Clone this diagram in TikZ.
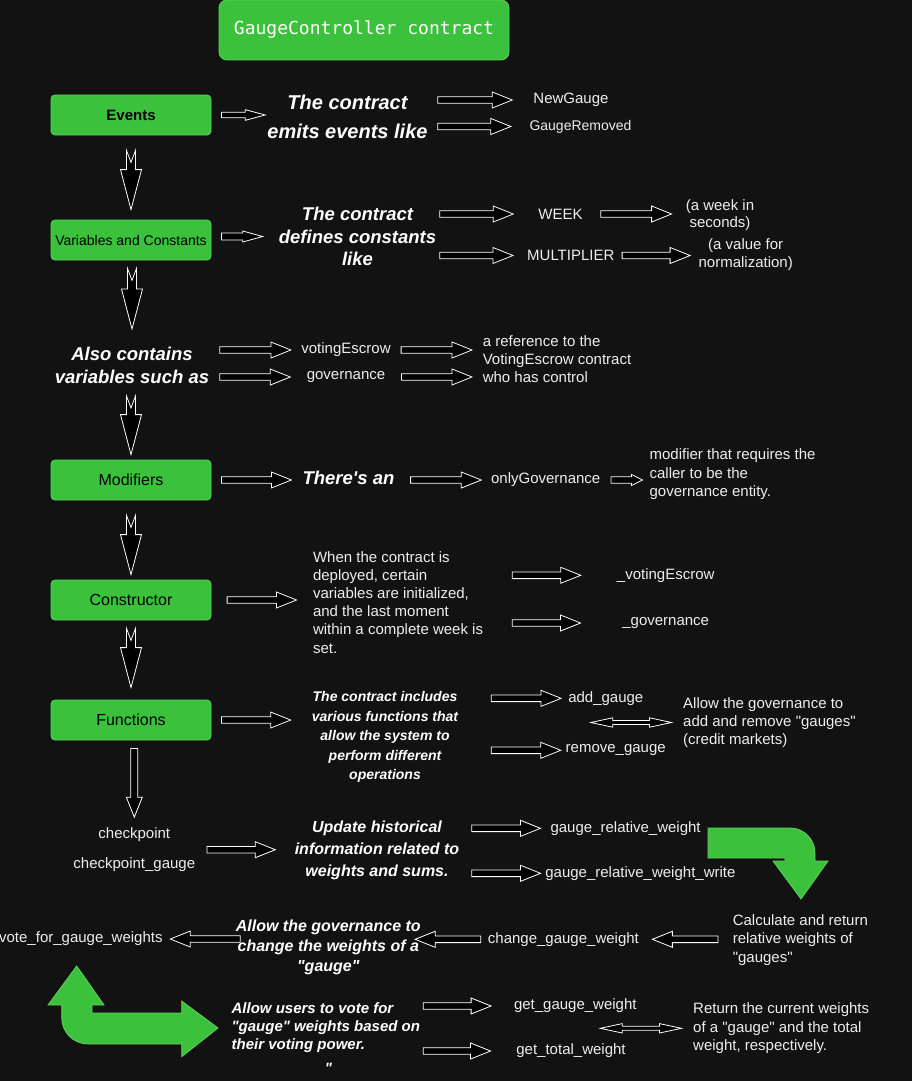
\documentclass[tikz,border=0pt]{standalone}
\usepackage{fontspec}
\setmainfont{Liberation Sans}[Ligatures=TeXOff]
\newfontfamily\codefont{DejaVu Sans Mono}
\usetikzlibrary{calc}
\definecolor{bg}{HTML}{121212}
\definecolor{gauge}{HTML}{3BC13B}
\definecolor{gaugeedge}{HTML}{5FD05F}
\definecolor{txt}{HTML}{EEEEEE}
\newcommand\fs[2]{\fontsize{#1}{#2}\selectfont}

\tikzset{
  fa shaft/.initial=3.3pt, fa head/.initial=8pt, fa len/.initial=20pt, fa notch/.initial=0pt,
  hollow/.style={draw=white, fill=black, line width=0.8pt, line join=miter},
  flow/.style={hollow, to path={let \p1=(\tikztostart), \p2=(\tikztotarget),
      \n1={sign(\x2-\x1)}, \n2={\pgfkeysvalueof{/tikz/fa shaft}},
      \n3={\pgfkeysvalueof{/tikz/fa head}}, \n4={\pgfkeysvalueof{/tikz/fa len}} in
      (\x1,{\y2+\n2}) -- ({\x2-\n1*\n4},{\y2+\n2}) -- ({\x2-\n1*\n4},{\y2+\n3}) -- (\x2,\y2)
      -- ({\x2-\n1*\n4},{\y2-\n3}) -- ({\x2-\n1*\n4},{\y2-\n2}) -- (\x1,{\y2-\n2}) -- cycle}},
  flowboth/.style={hollow, fa shaft=2pt, fa head=4.7pt, fa len=22pt,
    to path={let \p1=(\tikztostart), \p2=(\tikztotarget),
      \n1={sign(\x2-\x1)}, \n2={\pgfkeysvalueof{/tikz/fa shaft}},
      \n3={\pgfkeysvalueof{/tikz/fa head}}, \n4={\pgfkeysvalueof{/tikz/fa len}} in
      (\x1,\y2) -- ({\x1+\n1*\n4},{\y2+\n3}) -- ({\x1+\n1*\n4},{\y2+\n2}) -- ({\x2-\n1*\n4},{\y2+\n2})
      -- ({\x2-\n1*\n4},{\y2+\n3}) -- (\x2,\y2) -- ({\x2-\n1*\n4},{\y2-\n3}) -- ({\x2-\n1*\n4},{\y2-\n2})
      -- ({\x1+\n1*\n4},{\y2-\n2}) -- ({\x1+\n1*\n4},{\y2-\n3}) -- cycle}},
  drop/.style={hollow, fa shaft=4.5pt, fa head=10.5pt, fa len=40pt, fa notch=12pt,
    to path={let \p1=(\tikztostart), \p2=(\tikztotarget),
      \n2={\pgfkeysvalueof{/tikz/fa shaft}}, \n3={\pgfkeysvalueof{/tikz/fa head}},
      \n4={\pgfkeysvalueof{/tikz/fa len}}, \n5={\pgfkeysvalueof{/tikz/fa notch}} in
      ({\x2-\n2},\y1) -- (\x2,{\y1-\n5}) -- ({\x2+\n2},\y1) -- ({\x2+\n2},{\y2+\n4})
      -- ({\x2+\n3},{\y2+\n4}) -- (\x2,\y2) -- ({\x2-\n3},{\y2+\n4}) -- ({\x2-\n2},{\y2+\n4}) -- cycle}},
  box/.style={rectangle, rounded corners=4pt, fill=gauge, draw=gaugeedge, line width=0.8pt,
    minimum width=160pt, minimum height=40pt, text=black, font=\fs{16}{19}},
  lbl/.style={text=txt, inner sep=0pt, align=left, font=\fs{15}{18.2}},
  say/.style 2 args={text=white, inner sep=0pt, align=center, font=\bfseries\itshape\fs{#1}{#2}},
  greenbend/.style={fill=gauge, draw=gaugeedge, line width=0.8pt}
}

\begin{document}
\begin{tikzpicture}[x=1pt, y=-1pt]
  \fill[bg] (0,0) rectangle (912,1081);
  \useasboundingbox (0,0) rectangle (912,1081);

  \node[box, minimum width=290pt, minimum height=60pt, rounded corners=8pt, text=white,
    font=\codefont\fs{18}{22}] (title) at (364,30) {GaugeController contract};

  \node[box, font=\bfseries\fs{15}{18}] (evt) at (131,115) {Events};
  \node[box, font=\fs{14}{17}] (var) at (131,240) {Variables and Constants};
  \node[box] (mod) at (131,480) {Modifiers};
  \node[box] (cons) at (131,600) {Constructor};
  \node[box] (fun) at (131,720) {Functions};

  % events
  \node[say={20}{29}] (emits) at (347.5,116.5) {The contract\\emits events like};
  \node[lbl] (newg) at (571,100) {NewGauge};
  \node[lbl, font=\fs{14}{17}] (grem) at (580.5,126.5) {GaugeRemoved};
  \draw[flow, fa shaft=2.8pt, fa head=5.3pt] ([xshift=10pt]evt.east) to ([xshift=-2pt]emits.west |- evt);
  \draw[flow] ([xshift=10pt]emits.east |- newg) to ([xshift=-21pt]newg.west);
  \draw[flow] ([xshift=10pt]emits.east |- grem) to ([xshift=-18.5pt]grem.west);

  % constants
  \node[say={18.5}{22.5}] (defines) at (357.5,236.5) {The contract\\defines constants\\like};
  \node[lbl] (week) at (560.5,214) {WEEK};
  \node[lbl, align=center, font=\fs{15}{17.5}] (weeksec) at (720,215) {(a week in\\seconds)};
  \node[lbl] (mult) at (570.8,255.5) {MULTIPLIER};
  \node[lbl, align=center] (normval) at (745.7,255) {(a value for\\normalization)};
  \draw[flow, fa shaft=3.5pt, fa head=5.5pt] ([xshift=10pt]var.east |- defines) to ([xshift=-16pt]defines.west);
  \draw[flow] ([xshift=3.5pt]defines.east |- week) to ([xshift=-25pt]week.west);
  \draw[flow] ([xshift=18pt]week.east) to ([xshift=-14pt]weeksec.west |- week);
  \draw[flow] ([xshift=3.5pt]defines.east |- mult) to ([xshift=-14pt]mult.west);
  \draw[flow] ([xshift=7.5pt]mult.east) to ([xshift=-8.3pt]normval.west |- mult);

  % variables
  \node[say={18.5}{23}] (also) at (132,365.5) {Also contains\\variables such as};
  \node[lbl] (vesc0) at (346,350) {votingEscrow};
  \node[lbl] (gov0) at (346,377) {governance};
  \node[lbl, anchor=west] (ref) at (482.6,359) {a reference to the\\VotingEscrow contract\\who has control};
  \draw[flow] ([xshift=10.5pt]also.east |- vesc0) to ([xshift=-10.3pt]vesc0.west);
  \draw[flow] ([xshift=10.5pt]also.east |- gov0) to ([xshift=-16.3pt]gov0.west);
  \draw[flow] ([xshift=10.3pt]vesc0.east) to ([xshift=-10.6pt]ref.west |- vesc0);
  \draw[flow] ([xshift=16pt]gov0.east) to ([xshift=-10.6pt]ref.west |- gov0);

  % modifiers
  \node[say={18.5}{22}] (there) at (348.5,478) {There's an};
  \node[lbl] (onlyg) at (545.7,480) {onlyGovernance};
  \node[lbl, anchor=west] (modtxt) at (649.4,474.3) {modifier that requires the\\caller to be the\\governance entity.};
  \draw[flow] ([xshift=10pt]mod.east) to ([xshift=-11pt]there.west |- mod);
  \draw[flow] ([xshift=16pt]there.east |- mod) to ([xshift=-9.6pt]onlyg.west |- mod);
  \draw[flow, fa head=5.5pt, fa len=11pt] ([xshift=10.5pt]onlyg.east |- mod) to ([xshift=-7pt]modtxt.west |- mod);

  % constructor
  \node[lbl, anchor=west] (deploy) at (312.8,602.2) {When the contract is\\deployed, certain\\variables are initialized,\\and the last moment\\within a complete week is\\set.};
  \node[lbl] (vesc) at (665.7,575.3) {\_votingEscrow};
  \node[lbl] (gov) at (665.7,623) {\_governance};
  \draw[flow] ([xshift=15.7pt]cons.east) to ([xshift=-16.3pt]deploy.west |- cons);
  \draw[flow] ([xshift=29pt]deploy.east |- vesc) to ([xshift=-36pt]vesc.west);
  \draw[flow] ([xshift=29pt]deploy.east |- gov) to ([xshift=-41.6pt]gov.west);

  % functions
  \node[say={14}{19.5}] (incl) at (385,737) {The contract includes\\various functions that\\allow the system to\\perform different\\operations};
  \node[lbl] (addg) at (605.8,698.3) {add\_gauge};
  \node[lbl] (remg) at (615.7,750.3) {remove\_gauge};
  \node[lbl, anchor=west, font=\fs{15}{18}] (govtxt) at (683,722.5) {Allow the governance to\\add and remove "gauges"\\(credit markets)};
  \draw[flow] ([xshift=10pt]fun.east) to ([xshift=-21pt]incl.west |- fun);
  \draw[flow] ([xshift=33pt]incl.east |- addg) to ([xshift=-7pt]addg.west);
  \draw[flow] ([xshift=33pt]incl.east |- remg) to ([xshift=-4.7pt]remg.west);
  \draw[flowboth] ([xshift=-15pt]addg.center |- govtxt) to ([xshift=-11.5pt]govtxt.west);

  % checkpoints
  \node[lbl, align=center, font=\fs{15}{30.7}] (ckpt) at (134.3,849.7) {checkpoint\\checkpoint\_gauge};
  \node[say={16}{22}] (upd) at (377,850.5) {Update historical\\information related to\\weights and sums.};
  \node[lbl] (grw) at (625.6,828.3) {gauge\_relative\_weight};
  \node[lbl] (grww) at (640.4,873.3) {gauge\_relative\_weight\_write};
  \draw[flow] ([xshift=11.6pt]ckpt.east) to ([xshift=-19.3pt]upd.west |- ckpt);
  \draw[flow] ([xshift=12.3pt]upd.east |- grw) to ([xshift=-9.9pt]grw.west);
  \draw[flow] ([xshift=12.3pt]upd.east |- grww) to ([xshift=-4.6pt]grww.west);

  % weights
  \node[lbl, anchor=west] (calc) at (732.6,940) {Calculate and return\\relative weights of\\"gauges"};
  \node[lbl] (chg) at (563.4,939.3) {change\_gauge\_weight};
  \node[say={16}{19.7}] (allowgov) at (328.3,947.3) {Allow the governance to\\change the weights of a\\"gauge"};
  \node[lbl, anchor=east] (vote) at (162.8,939) {vote\_for\_gauge\_weights};
  \draw[flow] ([xshift=-14.6pt]calc.west |- chg) to ([xshift=13.3pt]chg.east);
  \draw[flow] ([xshift=-7pt]chg.west) to ([xshift=-5.8pt]allowgov.east |- chg);
  \draw[flow] ([xshift=4.7pt]allowgov.west |- vote) to ([xshift=7.5pt]vote.east);

  \node[say={15}{18}, align=left, anchor=west] (users) at (231.4,1028) {Allow users to vote for\\"gauge" weights based on\\their voting power.};
  \node[say={15}{18}] (quote) at (328.5,1068) {"};
  \node[lbl] (ggw) at (575.3,1006) {get\_gauge\_weight};
  \node[lbl] (gtw) at (571,1051) {get\_total\_weight};
  \node[lbl, anchor=west, font=\fs{15}{18.3}] (ret) at (693,1028.3) {Return the current weights\\of a "gauge" and the total\\weight, respectively.};
  \draw[flow] ([xshift=3pt]users.east |- ggw) to ([xshift=-22.7pt]ggw.west);
  \draw[flow] ([xshift=3pt]users.east |- gtw) to ([xshift=-25.6pt]gtw.west);
  \draw[flowboth] ([xshift=25pt]ggw.center |- ret) to ([xshift=-11.6pt]ret.west);

  % downward steps
  \draw[drop] ([yshift=-15pt]evt.south) to ([yshift=10pt]var.north);
  \draw[drop] ([yshift=-8pt]var.south) to ([yshift=18pt]also.north);
  \draw[drop] ([yshift=-12pt]also.south) to ([yshift=5pt]mod.north);
  \draw[drop] ([yshift=-15pt]mod.south) to ([yshift=5pt]cons.north);
  \draw[drop] ([yshift=-8pt]cons.south) to ([yshift=12pt]fun.north);
  \draw[drop, fa shaft=3.5pt, fa head=8pt, fa len=20pt, fa notch=0pt] ([yshift=-8pt]fun.south) to ([yshift=10pt]ckpt.north);

  % green bends
  \draw[greenbend] (708,828) -- (790,828) .. controls (803.8,828) and (815,839.2) .. (815,853)
    -- (815,861) -- (828,861) -- (801,899) -- (773,861) -- (785,861) -- (785,858) -- (708,858) -- cycle;
  \draw[greenbend] (76.7,966) -- (104,1005) -- (92,1005) -- (92,1013) -- (181.7,1013) -- (181.7,1001)
    -- (218,1028) -- (181.7,1056.7) -- (181.7,1044) -- (88,1044)
    .. controls (73.5,1044) and (61.7,1032.2) .. (61.7,1017.7) -- (61.7,1005) -- (48,1005) -- cycle;
\end{tikzpicture}
\end{document}
